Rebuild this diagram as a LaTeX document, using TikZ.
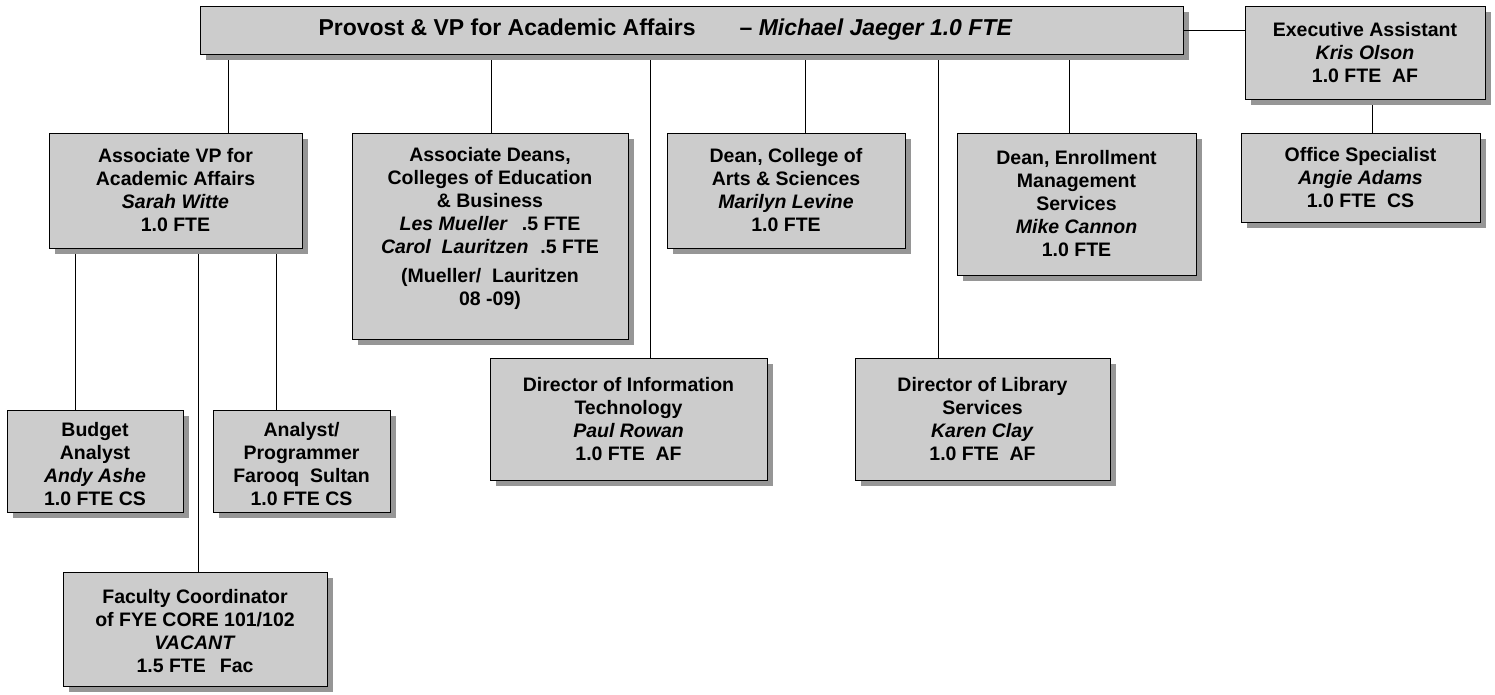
\documentclass[tikz,border=0pt]{standalone}
\usepackage{fontspec}
\setmainfont{Liberation Sans}
\usetikzlibrary{shadows,backgrounds}

\definecolor{boxfill}{HTML}{CCCCCC}
\definecolor{shadowgray}{HTML}{969696}

\tikzset{
  orgbox/.style={draw=black, line width=0.9pt, fill=boxfill, inner sep=0pt,
    drop shadow={shadow xshift=6pt, shadow yshift=-6pt, fill=shadowgray, opacity=1}},
  boxtext/.style={inner sep=0pt, align=center,
    font=\fontsize{19.5}{23}\selectfont\bfseries},
  link/.style={draw=black, line width=0.9pt}
}

% \orgnode{name}{left}{top}{right}{bottom}{text offset}{text}
\newcommand\orgnode[7]{%
  \node[orgbox, minimum width={(#4)-(#2)}, minimum height={(#5)-(#3)}]
    (#1) at ({((#2)+(#4))/2},{((#3)+(#5))/2}) {};
  \node[boxtext] (#1-t) at ([yshift={-(#6)}]#1.center) {#7};}

\begin{document}
\begin{tikzpicture}[x=1pt, y=-1pt]
\useasboundingbox (0,0) rectangle (1495,695);

% drop points of the vertical connectors
\coordinate (xavp) at (228,0);
\coordinate (xdeans) at (491,0);
\coordinate (xit) at (650,0);
\coordinate (xas) at (805,0);
\coordinate (xlib) at (938,0);
\coordinate (xenr) at (1069,0);
\coordinate (xoff) at (1372,0);
\coordinate (xbud) at (75,0);
\coordinate (xfac) at (198,0);
\coordinate (xprog) at (276,0);

\orgnode{prov}{200}{6}{1183}{54}{0}{\fontsize{23}{27}\selectfont Provost \& VP for Academic Affairs\hspace{44pt}– \textit{Michael Jaeger 1.0 FTE}\hspace*{52pt}}
\orgnode{exec}{1245}{6}{1485}{99}{0}{Executive Assistant\\\textit{Kris Olson}\\1.0 FTE\ \ AF}
\orgnode{office}{1241}{133}{1480}{222}{0}{Office Specialist\\\textit{Angie Adams}\\1.0 FTE\ \ CS}
\orgnode{avp}{49}{133}{302}{248}{0}{Associate VP for\\Academic Affairs\\\textit{Sarah Witte}\\1.0 FTE}
\orgnode{deans}{352}{133}{628}{339}{-8}{Associate Deans,\\Colleges of Education\\\& Business\\\textit{Les Mueller}\hspace{14pt}.5 FTE\\\textit{Carol\ \ Lauritzen}\hspace{12pt}.5 FTE\\[6pt](Mueller/\ \ Lauritzen\\08 -09)}
\orgnode{arts}{667}{133}{905}{248}{0}{Dean, College of\\Arts \& Sciences\\\textit{Marilyn Levine}\\1.0 FTE}
\orgnode{enroll}{957}{133}{1196}{275}{0}{Dean, Enrollment\\Management\\Services\\\textit{Mike Cannon}\\1.0 FTE}
\orgnode{it}{490}{358}{767}{480}{0}{Director of Information\\Technology\\\textit{Paul Rowan}\\1.0 FTE\ \ AF}
\orgnode{lib}{855}{358}{1110}{480}{0}{Director of Library\\Services\\\textit{Karen Clay}\\1.0 FTE\ \ AF}
\orgnode{budget}{7}{410}{183}{512}{3}{Budget\\Analyst\\\textit{Andy Ashe}\\1.0 FTE CS}
\orgnode{prog}{213}{410}{390}{512}{3}{Analyst/\\Programmer\\Farooq\ \ Sultan\\1.0 FTE CS}
\orgnode{fac}{63}{572}{327}{686}{2}{Faculty Coordinator\\of FYE CORE 101/102\\\textit{VACANT}\\1.5 FTE\hspace{14pt}Fac}

\draw[link] (prov.east) -- (prov.east -| exec.west);
\begin{scope}[on background layer]
  \draw[link] (exec.south -| xoff) -- (office.north -| xoff);
  \draw[link] (prov.south -| xavp) -- (avp.north -| xavp);
  \draw[link] (prov.south -| xdeans) -- (deans.north -| xdeans);
  \draw[link] (prov.south -| xit) -- (it.north -| xit);
  \draw[link] (prov.south -| xas) -- (arts.north -| xas);
  \draw[link] (prov.south -| xlib) -- (lib.north -| xlib);
  \draw[link] (prov.south -| xenr) -- (enroll.north -| xenr);
  \draw[link] (avp.south -| xbud) -- (budget.north -| xbud);
  \draw[link] (avp.south -| xfac) -- (fac.north -| xfac);
  \draw[link] (avp.south -| xprog) -- (prog.north -| xprog);
\end{scope}
\end{tikzpicture}
\end{document}
